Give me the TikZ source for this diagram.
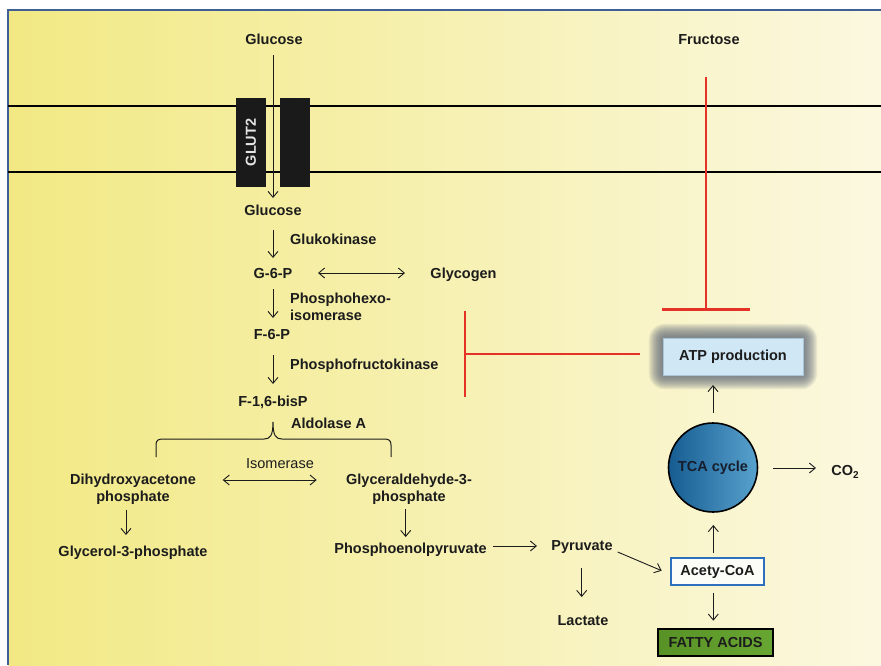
\documentclass[tikz,border=0pt]{standalone}
\usepackage{fontspec}
\setmainfont{Liberation Sans}
\usetikzlibrary{arrows.meta,calc}

\definecolor{bgL}{RGB}{242,233,132}
\definecolor{bgM}{RGB}{247,242,190}
\definecolor{bgR}{RGB}{251,248,224}
\definecolor{frameblue}{RGB}{62,96,150}
\definecolor{inhred}{RGB}{228,50,38}
\definecolor{tcaL}{RGB}{22,92,145}
\definecolor{tcaR}{RGB}{88,162,206}
\definecolor{atpL}{RGB}{208,232,246}
\definecolor{atpM}{RGB}{160,206,236}
\definecolor{glowc}{RGB}{92,102,118}
\definecolor{coaBlue}{RGB}{45,112,190}
\definecolor{faL}{RGB}{88,146,38}
\definecolor{faM}{RGB}{124,188,64}
\definecolor{faR}{RGB}{104,166,50}
\definecolor{ink}{RGB}{28,28,28}
\definecolor{blockc}{RGB}{26,26,26}
\definecolor{blocktext}{RGB}{228,228,228}

\pgfdeclarelayer{bg}
\pgfdeclarelayer{glow}
\pgfsetlayers{bg,glow,main}

\begin{document}
\begin{tikzpicture}[x=1pt,y=-1pt,
  every node/.style={font=\fontsize{14.5}{17.5}\selectfont\bfseries, text=ink},
  lbl/.style={inner sep=0pt, text height=10.5pt, text depth=0pt},
  multi/.style={inner sep=0pt, align=center, anchor=north},
  arr/.style={draw=ink, line width=0.9pt, -{Straight Barb[length=6pt,width=10pt]}},
  dbl/.style={draw=ink, line width=0.9pt,
    {Straight Barb[length=6pt,width=10pt]}-{Straight Barb[length=6pt,width=10pt]}},
  inhib/.style={draw=inhred, line width=2.6pt, -{Bar[width=#1]}},
  block/.style={fill=blockc, draw=none, inner sep=0pt, text=blocktext},
  atpbox/.style={minimum width=140pt, minimum height=37pt, inner sep=0pt,
    draw={rgb,255:red,170;green,196;blue,216}, line width=0.6pt,
    left color=atpL, middle color=atpM, right color=atpL},
  tcanode/.style={circle, minimum size=89pt, inner sep=0pt, draw=black,
    line width=1.6pt, left color=tcaL, right color=tcaR,
    text={rgb,255:red,22;green,30;blue,45}},
  coabox/.style={minimum width=93pt, minimum height=27pt, inner sep=0pt,
    draw=coaBlue, line width=1.5pt, fill={rgb,255:red,253;green,253;blue,247}},
  fabox/.style={minimum width=115pt, minimum height=27pt, inner sep=0pt,
    draw=black, line width=1.8pt, left color=faL, middle color=faM, right color=faR},
  bracepath/.style={draw=ink, line width=1pt},
]
\useasboundingbox (0,0) rectangle (881,665);

% background panel and cell membrane
\begin{pgfonlayer}{bg}
  \fill[white] (0,0) rectangle (881,665);
  \shade[left color=bgL, middle color=bgM, right color=bgR] (8,10) rectangle (881,665);
  \draw[frameblue, line width=2.5pt] (8,665) -- (8,10) -- (881,10);
  \draw[black, line width=1.5pt] (8,106) -- (881,106);
  \draw[black, line width=1.5pt] (8,172) -- (881,172);
\end{pgfonlayer}

% GLUT2 transporter
\node[block, minimum width=89pt, minimum height=30pt, rotate=90] (glutA) at (251,142.5) {GLUT2};
\node[block, minimum width=30pt, minimum height=89pt] (glutB) at (295,142.5) {};

% metabolites and enzymes
\node[lbl] (glcout) at (274,39) {Glucose};
\node[lbl] (fru) at (709,39) {Fructose};
\node[lbl] (glcin) at (273,210) {Glucose};
\node[lbl, anchor=west] (gk) at (290,239) {Glukokinase};
\node[lbl] (g6p) at (273,273) {G-6-P};
\node[lbl] (gly) at (463.5,273) {Glycogen};
\node[multi, anchor=north west, align=left] (phi) at (290,292.5) {Phosphohexo-\\isomerase};
\node[lbl] (f6p) at (272,334) {F-6-P};
\node[lbl, anchor=west] (pfk) at (290,364) {Phosphofructokinase};
\node[lbl] (f16) at (273,401) {F-1,6-bisP};
\node[lbl, anchor=west] (ald) at (291,423) {Aldolase A};
\node[lbl, font=\fontsize{14.5}{17.5}\selectfont] (iso) at (280,463.5) {Isomerase};
\node[multi] (dhap) at (133,473.5) {Dihydroxyacetone\\phosphate};
\node[multi] (g3p) at (409,473.5) {Glyceraldehyde-3-\\phosphate};
\node[lbl] (glyc) at (133,551) {Glycerol-3-phosphate};
\node[lbl] (pep) at (410.5,548) {Phosphoenolpyruvate};
\node[lbl] (pyr) at (582,545) {Pyruvate};
\node[lbl] (lac) at (583,620.5) {Lactate};
\node[coabox] (acoa) at (717.5,571.5) {Acety-CoA};
\node[fabox] (fa) at (715.5,642.5) {FATTY ACIDS};
\node[tcanode] (tca) at (713,467.5) {TCA cycle};
\node[lbl] (co2) at (845,470) {CO\raisebox{-3.5pt}{\fontsize{10}{10}\selectfont 2}};
\node[atpbox] (atp) at (733,356.5) {ATP production};

% soft glow around the ATP box
\begin{pgfonlayer}{glow}
  \foreach \d in {1,...,14}
    \fill[glowc, opacity=0.09, rounded corners=\d pt+2pt]
      ([shift={(-\d,-\d)}]atp.north west) rectangle ([shift={(\d,\d)}]atp.south east);
\end{pgfonlayer}

% glycolysis connectors
\draw[arr] ([shift={(-1,16)}]glcout.center) -- ([shift={(0,-12)}]glcin.center);
\draw[arr] ([shift={(0,20)}]glcin.center) -- ([shift={(0,-15)}]g6p.center);
\draw[dbl] ([shift={(45,0)}]g6p.center) -- ([shift={(-58.5,0)}]gly.center);
\draw[arr] ([shift={(0,16)}]g6p.center) -- ([shift={(1,-16)}]f6p.center);
\draw[arr] ([shift={(1,21)}]f6p.center) -- ([shift={(0,-17)}]f16.center);

% aldolase brace
\coordinate (brTip) at ([shift={(0,21)}]f16.center);
\coordinate (brL) at ([shift={(23,-16.5)}]dhap.north);
\coordinate (brR) at ([shift={(-18,-16.5)}]g3p.north);
\draw[bracepath] (brL) -- (156,445) .. controls (156,440.5) and (158,439) .. (163,439)
  -- (264,439) .. controls (270,439) and (273,436) .. (brTip)
  .. controls (273,436) and (276,439) .. (282,439)
  -- (384,439) .. controls (389,439) and (391,440.5) .. (391,445) -- (brR);

\draw[dbl] ([shift={(89.7,6.5)}]dhap.north) -- ([shift={(-92.3,6.5)}]g3p.north);
\draw[arr] ([shift={(-7,36.5)}]dhap.north) -- ([shift={(-7,-16)}]glyc.center);
\draw[arr] ([shift={(-3.3,35.5)}]g3p.north) -- ([shift={(-4.8,-11)}]pep.center);
\draw[arr] ([shift={(82.5,-2)}]pep.center) -- ([shift={(-45,1)}]pyr.center);
\draw[arr] ([shift={(-0.3,23)}]pyr.center) -- ([shift={(-1.3,-23.5)}]lac.center);
\draw[arr] ([shift={(35.7,7)}]pyr.center) -- ([shift={(-55.8,-0.8)}]acoa.center);
\draw[arr] ([shift={(-4.2,21.2)}]acoa.center) -- ([shift={(-2.2,-21.8)}]fa.center);
\draw[arr] ([shift={(-4.2,-18.5)}]acoa.center) -- ([shift={(0.3,57.5)}]tca.center);
\draw[arr] ([shift={(60,0.5)}]tca.center) -- ([shift={(-29,-2)}]co2.center);
\draw[arr] ([shift={(0,-54.5)}]tca.center) -- ([shift={(-20,28.5)}]atp.center);

% inhibitions
\draw[inhib=88pt] ([shift={(-3,38)}]fru.center) -- ([shift={(-27,-45.5)}]atp.center);
\draw[inhib=86pt] ([shift={(-93,-2.5)}]atp.center) -- ([shift={(25,-10)}]pfk.east);
\end{tikzpicture}
\end{document}
